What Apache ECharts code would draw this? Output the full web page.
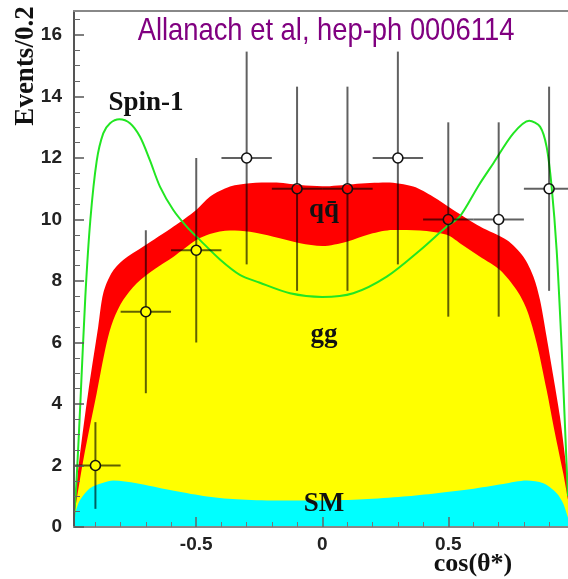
<!DOCTYPE html>
<html><head><meta charset="utf-8">
<script src="https://cdn.jsdelivr.net/npm/echarts@6/dist/echarts.min.js"></script>
<style>html,body{margin:0;padding:0;background:#fff}#c{width:568px;height:579px}</style>
</head><body><div id="c"></div>
<script>
// ---- data ----
const xMajorTicks = [-0.5, 0, 0.5];
const xMinorTicks = [-0.9,-0.8,-0.7,-0.6,-0.4,-0.3,-0.2,-0.1,0.1,0.2,0.3,0.4,0.6,0.7,0.8,0.9];
const yMajorTicks = [0, 2, 4, 6, 8, 10, 12, 14, 16];
const yMinorTicks = [0.5,1,1.5,2.5,3,3.5,4.5,5,5.5,6.5,7,7.5,8.5,9,9.5,10.5,11,11.5,12.5,13,13.5,14.5,15,15.5,16.5];

// total (SM + gg + qqbar) : top of red band
const qqX = [-0.985,-0.964,-0.929,-0.889,-0.869,-0.836,-0.79,-0.71,-0.59,-0.5,-0.446,-0.366,-0.287,-0.194,-0.088,0,0.123,0.255,0.361,0.44,0.52,0.626,0.732,0.798,0.838,0.864,0.89,0.917,0.943,0.97,0.975];
const qqTop = [0.55,2.18,4.36,6.51,7.6,8.26,8.68,9.12,9.77,10.31,10.74,11.07,11.18,11.2,11.12,11.08,11.15,11.2,11.07,10.74,10.31,9.77,9.33,8.79,8.14,7.38,6.19,4.89,3.59,1.85,1.6];
// SM + gg : top of yellow band
const ggX = [-0.985,-0.948,-0.895,-0.856,-0.829,-0.79,-0.737,-0.67,-0.59,-0.5,-0.446,-0.366,-0.287,-0.194,-0.088,0,0.097,0.19,0.28,0.388,0.494,0.546,0.626,0.705,0.771,0.812,0.851,0.89,0.923,0.956,0.975];
const ggTop = [0.33,2.18,4.35,5.97,6.73,7.38,7.92,8.36,8.79,9.33,9.53,9.64,9.6,9.44,9.23,9.14,9.28,9.53,9.66,9.64,9.5,9.23,8.79,8.36,7.71,7.06,5.97,4.46,3.06,1.75,0.9];
// SM : top of cyan band
const smX = [-0.985,-0.975,-0.961,-0.922,-0.869,-0.829,-0.737,-0.604,-0.472,-0.34,-0.181,0,0.163,0.321,0.454,0.586,0.718,0.811,0.877,0.93,0.955,0.975];
const smTop = [0.3,0.6,0.88,1.26,1.44,1.51,1.42,1.2,1.01,0.9,0.86,0.86,0.9,0.99,1.1,1.23,1.4,1.51,1.42,1.1,0.78,0.3];
// Spin-1 curve
const spinX = [-0.985,-0.975,-0.96,-0.94,-0.92,-0.895,-0.869,-0.842,-0.805,-0.763,-0.723,-0.684,-0.644,-0.591,-0.538,-0.485,-0.406,-0.327,-0.25,-0.128,0,0.123,0.256,0.388,0.494,0.546,0.62,0.679,0.758,0.821,0.864,0.89,0.91,0.93,0.95,0.967,0.975];
const spinY = [0.3,1.5,4.0,7.5,10.0,11.9,12.8,13.13,13.26,13.13,12.69,11.93,11.07,10.31,9.77,9.33,8.7,8.2,7.95,7.6,7.48,7.6,8.14,9.0,9.77,10.1,11.1,11.83,12.8,13.21,13.02,12.37,11.07,9.0,5.8,2.5,1.0];
// data points
const dataX = [-0.9,-0.7,-0.5,-0.3,-0.1,0.1,0.3,0.5,0.7,0.9];
const dataY = [2,7,9,12,11,11,12,10,10,11];
const dataErr = [1.41,2.65,3.0,3.46,3.32,3.32,3.46,3.16,3.16,3.32];
const binHalfWidth = 0.1;

const zip = (a, b) => a.map((v, i) => [v, b[i]]);
const serif = "'Liberation Serif','Times New Roman',serif";
const sans = "'Liberation Sans',Arial,sans-serif";

const chart = echarts.init(document.getElementById('c'), null, {renderer: 'canvas'});
const XMIN = -0.985, XMAX = 0.975, YMAX = 16.78;

function area(name, xs, ys, color, z) {
  return {
    name, type: 'line', data: zip(xs, ys), smooth: 0.3,
    symbol: 'none', lineStyle: {width: 0}, areaStyle: {color, opacity: 1}, z,
    xAxisIndex: 0, yAxisIndex: 0, silent: true
  };
}

chart.setOption({
  animation: false,
  backgroundColor: '#fff',
  grid: {left: 74, right: 0, top: 11, bottom: 52, containLabel: false},
  xAxis: [
    {type: 'value', min: XMIN, max: XMAX, position: 'bottom',
     axisLine: {show: true, onZero: false, lineStyle: {color: '#888', width: 2}},
     axisTick: {show: true, inside: true, length: 10, customValues: xMajorTicks, lineStyle: {color: '#666', width: 1.5}},
     axisLabel: {show: true, customValues: xMajorTicks, margin: 8, fontFamily: sans, fontWeight: 'bold', fontSize: 19, color: '#222',
       formatter: v => (Math.abs(v) < 1e-9 ? '0' : String(v))},
     splitLine: {show: false}, z: 10},
    {type: 'value', min: XMIN, max: XMAX, position: 'bottom',
     axisLine: {show: false, onZero: false},
     axisTick: {show: true, inside: true, length: 5, customValues: xMinorTicks, lineStyle: {color: '#777', width: 1}},
     axisLabel: {show: false}, splitLine: {show: false}, z: 10},
    {type: 'value', min: XMIN, max: XMAX, position: 'top',
     axisLine: {show: true, onZero: false, lineStyle: {color: '#888', width: 2}},
     axisTick: {show: false}, axisLabel: {show: false}, splitLine: {show: false}, z: 10}
  ],
  yAxis: [
    {type: 'value', min: 0, max: YMAX, position: 'left',
     axisLine: {show: true, onZero: false, lineStyle: {color: '#555', width: 2}},
     axisTick: {show: true, inside: true, length: 10, customValues: yMajorTicks, lineStyle: {color: '#555', width: 1.5}},
     axisLabel: {show: true, customValues: yMajorTicks, margin: 12, fontFamily: sans, fontWeight: 'bold', fontSize: 19, color: '#222'},
     splitLine: {show: false}, z: 10},
    {type: 'value', min: 0, max: YMAX, position: 'left',
     axisLine: {show: false, onZero: false},
     axisTick: {show: true, inside: true, length: 6, customValues: yMinorTicks, lineStyle: {color: '#666', width: 1}},
     axisLabel: {show: false}, splitLine: {show: false}, z: 10}
  ],
  series: [
    area('qqbar', qqX, qqTop, '#ff0000', 1),
    area('gg', ggX, ggTop, '#ffff00', 2),
    area('SM', smX, smTop, '#00ffff', 3),
    {name: 'Spin-1', type: 'line', data: zip(spinX, spinY), smooth: 0.3, symbol: 'none',
     lineStyle: {color: '#22e622', width: 2}, z: 4, silent: true},
    {name: 'data', type: 'custom', z: 5, clip: true,
     data: dataX.map((x, i) => [x, dataY[i], dataErr[i]]),
     renderItem: function (params, api) {
       const x = api.value(0), y = api.value(1), e = api.value(2);
       const p = api.coord([x, y]);
       const t = api.coord([x, y + e]);
       const b = api.coord([x, y - e]);
       const l = api.coord([x - binHalfWidth, y]);
       const r = api.coord([x + binHalfWidth, y]);
       const R = 5;
       const st = {stroke: 'rgba(0,0,0,0.62)', lineWidth: 2};
       return {type: 'group', children: [
         {type: 'line', shape: {x1: p[0], y1: t[1], x2: p[0], y2: p[1] - R}, style: st},
         {type: 'line', shape: {x1: p[0], y1: p[1] + R, x2: p[0], y2: b[1]}, style: st},
         {type: 'line', shape: {x1: l[0], y1: p[1], x2: p[0] - R, y2: p[1]}, style: st},
         {type: 'line', shape: {x1: p[0] + R, y1: p[1], x2: r[0], y2: p[1]}, style: st},
         {type: 'circle', shape: {cx: p[0], cy: p[1], r: R}, style: {fill: null, stroke: '#111', lineWidth: 1.6}}
       ]};
     }}
  ],
  graphic: [
    {type: 'text', x: 326, y: 31, z: 20, scaleX: 0.855,
     style: {text: 'Allanach et al, hep-ph 0006114', fill: '#800080', font: "32px " + sans, textAlign: 'center', textVerticalAlign: 'middle'}},
    {type: 'text', x: 26, y: 66, rotation: Math.PI / 2, z: 20,
     style: {text: 'Events/0.2', fill: '#111', font: "bold 27px " + serif, textAlign: 'center', textVerticalAlign: 'middle'}},
    {type: 'text', x: 146, y: 103, z: 20,
     style: {text: 'Spin-1', fill: '#111', font: "bold 27px " + serif, textAlign: 'center', textVerticalAlign: 'middle'}},
    {type: 'text', x: 324, y: 210, z: 20,
     style: {text: 'qq\u0304', fill: '#111', font: "bold 27px " + serif, textAlign: 'center', textVerticalAlign: 'middle'}},
    {type: 'text', x: 324, y: 335, z: 20,
     style: {text: 'gg', fill: '#111', font: "bold 27px " + serif, textAlign: 'center', textVerticalAlign: 'middle'}},
    {type: 'text', x: 324, y: 504, z: 20,
     style: {text: 'SM', fill: '#111', font: "bold 27px " + serif, textAlign: 'center', textVerticalAlign: 'middle'}},
    {type: 'text', x: 473, y: 564, z: 20,
     style: {text: 'cos(\u03b8*)', fill: '#111', font: "bold 26px " + serif, textAlign: 'center', textVerticalAlign: 'middle'}}
  ]
});
</script></body></html>
